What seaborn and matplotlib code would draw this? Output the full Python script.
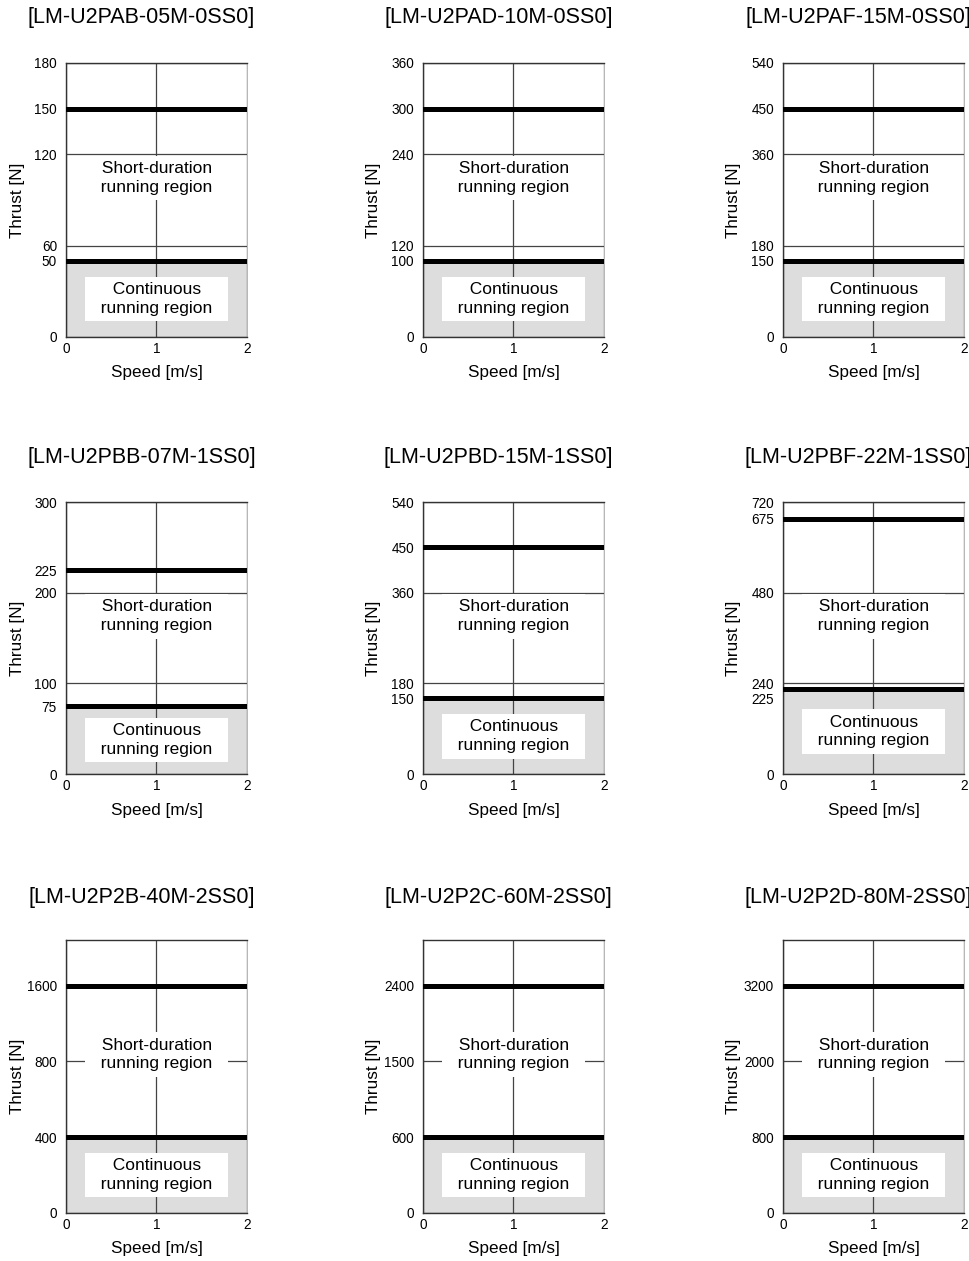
import numpy as np
import pandas as pd
import matplotlib
matplotlib.use('Agg')
import matplotlib.pyplot as plt
import matplotlib.transforms as mtransforms
import seaborn as sns

# model names, thrust values [N]
models = ['[LM-U2PAB-05M-0SS0]', '[LM-U2PAD-10M-0SS0]', '[LM-U2PAF-15M-0SS0]',
          '[LM-U2PBB-07M-1SS0]', '[LM-U2PBD-15M-1SS0]', '[LM-U2PBF-22M-1SS0]',
          '[LM-U2P2B-40M-2SS0]', '[LM-U2P2C-60M-2SS0]', '[LM-U2P2D-80M-2SS0]']
rated_thrust = [50, 100, 150, 75, 150, 225, 400, 600, 800]
max_thrust = [150, 300, 450, 225, 450, 675, 1600, 2400, 3200]
y_ticks = [[0, 50, 60, 120, 150, 180],
           [0, 100, 120, 240, 300, 360],
           [0, 150, 180, 360, 450, 540],
           [0, 75, 100, 200, 225, 300],
           [0, 150, 180, 360, 450, 540],
           [0, 225, 240, 480, 675, 720],
           [0, 400, 800, 1600],
           [0, 600, 1500, 2400],
           [0, 800, 2000, 3200]]
y_top = [180, 360, 540, 300, 540, 720, 2080, 2940, 3920]
# bottom row uses evenly spaced (schematic) thrust ticks
schematic = [False] * 6 + [True] * 3
speed_ticks = [0, 1, 2]

sns.set_style('white')
plt.rcParams['font.family'] = ['Liberation Sans', 'DejaVu Sans']
plt.rcParams['text.color'] = 'black'
plt.rcParams['axes.labelcolor'] = 'black'

W, H = 970, 1261
fig = plt.figure(figsize=(W / 100, H / 100), dpi=100)

col_left = [66, 423, 783]
ax_w = 181
row_top = [63, 502, 940]
ax_h = [274, 272, 273]
title_y = [18, 458, 897]


def make_scale(ticks):
    t = np.asarray(ticks, float)
    p = np.arange(len(t), dtype=float)
    step = t[-1] - t[-2]

    def fwd(y):
        y = np.asarray(y, float)
        return np.where(y <= t[-1], np.interp(y, t, p), p[-1] + (y - t[-1]) / step)

    def inv(v):
        v = np.asarray(v, float)
        return np.where(v <= p[-1], np.interp(v, p, t), t[-1] + (v - p[-1]) * step)
    return fwd, inv


box = dict(boxstyle='square,pad=0.32', fc='white', ec='none')

for i, name in enumerate(models):
    r, c = divmod(i, 3)
    left = col_left[c]
    top = row_top[r]
    h = ax_h[r]
    ax = fig.add_axes([left / W, 1 - (top + h) / H, ax_w / W, h / H])

    if schematic[i]:
        ax.set_yscale('function', functions=make_scale(y_ticks[i]))

    ax.fill_between([speed_ticks[0], speed_ticks[-1]], 0, rated_thrust[i],
                    color='#dddddd', lw=0, zorder=1)
    for level in (rated_thrust[i], max_thrust[i]):
        df = pd.DataFrame({'speed': [speed_ticks[0], speed_ticks[-1]],
                           'thrust': [level, level]})
        sns.lineplot(data=df, x='speed', y='thrust', ax=ax, color='black',
                     lw=3.6, zorder=3, legend=False)

    ax.set_xlim(speed_ticks[0], speed_ticks[-1])
    ax.set_ylim(0, y_top[i])
    ax.set_xticks(speed_ticks)
    ax.set_yticks(y_ticks[i])
    ax.set_yticklabels([str(v) for v in y_ticks[i]])
    ax.set_axisbelow('line')
    ax.grid(True, color='#444444', lw=0.9)
    ax.tick_params(length=0, labelsize=9.8, colors='black')
    ax.tick_params(axis='y', pad=6.5)
    ax.tick_params(axis='x', pad=3.5)
    for s in ['left', 'top', 'bottom']:
        ax.spines[s].set_color('#333333')
        ax.spines[s].set_linewidth(1.0)
    ax.spines['right'].set_color('#aaaaaa')
    ax.spines['right'].set_linewidth(0.6)

    # push a tick label down when its neighbour above is too close
    ticks_px = [ax.transData.transform((0, v))[1] for v in y_ticks[i]]
    for k, lab in enumerate(ax.get_yticklabels()):
        if k + 1 < len(ticks_px) and 0 < ticks_px[k + 1] - ticks_px[k] < 11:
            lab.set_transform(lab.get_transform() + mtransforms.ScaledTranslation(
                0, -9 / 100, fig.dpi_scale_trans))

    ax.set_xlabel('Speed [m/s]', fontsize=12.3)
    ax.set_ylabel('Thrust [N]', fontsize=12.3)
    ax.xaxis.set_label_coords(0.5, -36 / h, transform=ax.transAxes)
    ax.yaxis.set_label_coords(-49 / ax_w, 0.5, transform=ax.transAxes)
    ax.xaxis.label.set_va('center')
    ax.yaxis.label.set_va('center')

    ax.text(0.5, 0.58, '  Short-duration  \n  running region  ', transform=ax.transAxes,
            ha='center', va='center', fontsize=12.5, bbox=box, zorder=5,
            linespacing=1.3)
    ax.text(1, rated_thrust[i] / 2, '  Continuous  \n  running region  ',
            ha='center', va='center', fontsize=12.5, bbox=box, zorder=5,
            linespacing=1.3)

    fig.text((left + ax_w / 2 - 15) / W, 1 - title_y[r] / H, name,
             ha='center', va='center', fontsize=15.5)

fig.savefig('out.png', dpi=100)
